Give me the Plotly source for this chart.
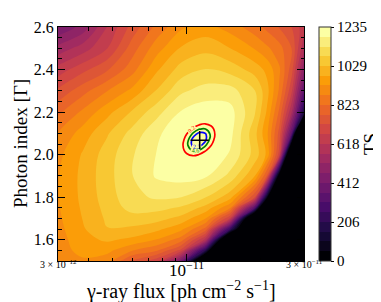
import math
import plotly.graph_objects as go
from plotly.colors import sample_colorscale

# ---------------- data ----------------
# TS map grid: log10 of the gamma-ray flux (columns) and photon index (rows).
# The outermost column/row on each side lies just outside the plotted range.
log_flux = [-11.623, -11.523, -11.423, -11.323, -11.223, -11.123, -11.023,
            -10.923, -10.823, -10.723, -10.673, -10.623, -10.573, -10.523,
            -10.423]
photon_index = [1.4, 1.5, 1.55, 1.6, 1.65, 1.7, 1.75, 1.8, 1.9, 2.0, 2.1,
                2.2, 2.3, 2.4, 2.5, 2.6, 2.7]
# estimated TS values (rows follow photon_index, columns follow log_flux)
ts_map = [
    [806, 844, 825, 528, 110, -326, -800, -800, -800, -800, -800, -800, -800, -800, -800],
    [825, 883, 914, 896, 760, 686, 412, -316, -800, -800, -800, -800, -800, -800, -800],
    [834, 894, 950, 942, 880, 832, 704, 195, -800, -800, -800, -800, -800, -800, -800],
    [840, 902, 961, 986, 966, 924, 849, 600, -350, -800, -800, -800, -800, -800, -800],
    [846, 910, 971, 1027, 1018, 992, 940, 806, 240, -465, -800, -800, -800, -800, -800],
    [850, 916, 979, 1038, 1060, 1049, 1012, 926, 664, -340, -800, -800, -800, -800, -800],
    [853, 921, 985, 1047, 1099, 1098, 1074, 1011, 879, 321, -450, -800, -800, -800, -800],
    [855, 923, 990, 1055, 1116, 1140, 1133, 1083, 997, 723, 75, -800, -800, -800, -800],
    [851, 922, 992, 1061, 1129, 1190, 1206, 1192, 1116, 978, 763, -40, -800, -800, -800],
    [839, 911, 983, 1055, 1126, 1185, 1228, 1226, 1178, 1060, 966, 690, -375, -800, -800],
    [805, 877, 949, 1023, 1098, 1172, 1223, 1233, 1200, 1046, 936, 752, 348, -800, -800],
    [738, 811, 885, 960, 1035, 1112, 1188, 1212, 1204, 1086, 970, 812, 567, 158, -800],
    [660, 732, 803, 873, 939, 1032, 1121, 1156, 1154, 1083, 995, 866, 678, 336, -800],
    [572, 639, 704, 766, 852, 968, 1051, 1082, 1060, 1007, 964, 883, 743, 468, -800],
    [471, 533, 590, 668, 797, 903, 983, 1013, 978, 923, 885, 843, 771, 575, -690],
    [361, 415, 482, 619, 738, 838, 917, 946, 904, 845, 808, 768, 719, 638, -331],
    [240, 296, 436, 564, 677, 772, 852, 879, 831, 771, 735, 695, 651, 605, 227],
]
ts_max = 1235
n_bands = 24

# fine scan around the best fit: Delta TS = TS_max - TS
local_log_flux = [-11.05, -11.025, -11.0, -10.975, -10.95, -10.925, -10.9,
                  -10.875, -10.85]
local_index = [1.97, 1.995, 2.02, 2.045, 2.07, 2.095, 2.12, 2.145, 2.17]
local_dts = [
    [27.7, 20.9, 17.2, 16.4, 18.6, 23.9, 32.1, 43.3, 57.5],
    [23.3, 15.6, 10.9, 9.2, 10.5, 14.8, 22.1, 32.4, 45.7],
    [21.2, 12.6, 6.9, 4.3, 4.7, 8.0, 14.4, 23.8, 36.1],
    [21.4, 11.9, 5.3, 1.7, 1.2, 3.6, 9.0, 17.5, 28.9],
    [24.0, 13.5, 6.0, 1.5, 0.0, 1.5, 6.0, 13.5, 24.0],
    [28.9, 17.5, 9.0, 3.6, 1.2, 1.7, 5.3, 11.9, 21.4],
    [36.1, 23.8, 14.4, 8.0, 4.7, 4.3, 6.9, 12.6, 21.2],
    [45.7, 32.4, 22.1, 14.8, 10.5, 9.2, 10.9, 15.6, 23.3],
    [57.5, 43.3, 32.1, 23.9, 18.6, 16.4, 17.2, 20.9, 27.7],
]
conf_levels = [2.30, 4.61, 9.21]
conf_colors = ["blue", "green", "red"]

best_flux = [1.13e-11]
best_index = [2.068]

x_major = [3e-12, 1e-11, 3e-11]
x_major_text = ["<span style='font-size:10px'>3 × 10<sup>−12</sup></span>",
                "10<sup>−11</sup>",
                "<span style='font-size:10px'>3 × 10<sup>−11</sup></span>"]
x_minor = [4e-12, 5e-12, 6e-12, 7e-12, 8e-12, 9e-12, 2e-11]
y_major = [1.6, 1.8, 2.0, 2.2, 2.4, 2.6]

# ---------------- figure ----------------
FONT = "Liberation Serif"
flux = [10 ** v for v in log_flux]
local_flux = [10 ** v for v in local_log_flux]
step = ts_max / n_bands

# banded inferno scale for the colour bar (band b -> inferno(b / 23))
band_cols = sample_colorscale("Inferno", [b / (n_bands - 1) for b in range(n_bands)])
banded = []
for b, c in enumerate(band_cols):
    banded.append([b / n_bands, c])
    banded.append([(b + 1) / n_bands, c])

cb_vals = [k * ts_max / 6 for k in range(7)]
cb_text = [str(round(v)) for v in cb_vals]

W, H = 381, 302
ml, mr, mt, mb = 50, 58, 11, 49
pw = W - ml - mr
ph = H - mt - mb
main_right = 246 / pw

fig = go.Figure()
fig.add_trace(go.Contour(
    x=flux, y=photon_index, z=ts_map, colorscale="Inferno",
    autocontour=False, connectgaps=True,
    contours=dict(start=step, end=step * (n_bands - 1), size=step,
                  coloring="fill", showlines=False),
    line=dict(width=0, smoothing=1.0), showscale=False, hoverinfo="skip"))

for lvl, col in zip(conf_levels, conf_colors):
    fig.add_trace(go.Contour(
        x=local_flux, y=local_index, z=local_dts, autocontour=False,
        connectgaps=True,
        contours=dict(start=lvl, end=lvl, size=1, coloring="none",
                      showlabels=True, labelformat=".1f",
                      labelfont=dict(size=6, color=col, family=FONT)),
        line=dict(color=col, width=1.7, smoothing=1.3),
        showscale=False, hoverinfo="skip"))

fig.add_trace(go.Scatter(
    x=best_flux, y=best_index, mode="markers",
    marker=dict(symbol="cross-thin", size=13, color="black",
                line=dict(width=1.5, color="black")),
    hoverinfo="skip", showlegend=False))

# colour bar (banded TS scale) carried by an invisible marker at the best fit
fig.add_trace(go.Scatter(
    x=best_flux, y=best_index, mode="markers", hoverinfo="skip",
    showlegend=False,
    marker=dict(size=1, opacity=0, color=[ts_max], colorscale=banded,
                cmin=0, cmax=ts_max, showscale=True,
                colorbar=dict(thickness=12, thicknessmode="pixels",
                              len=1, lenmode="fraction", x=261 / pw,
                              xanchor="left", xpad=0, y=0.5,
                              yanchor="middle", ypad=0, outlinewidth=1,
                              outlinecolor="#333333", ticks="outside",
                              ticklen=3, tickcolor="black",
                              tickvals=cb_vals, ticktext=cb_text,
                              tickfont=dict(size=15, family=FONT)))))

axis_common = dict(showgrid=False, zeroline=False, showline=True,
                   linecolor="black", linewidth=1, ticks="inside",
                   tickcolor="black", tickwidth=1, mirror="allticks")

annotations = []
for v, t in zip(x_major, x_major_text):
    annotations.append(dict(x=math.log10(v), xref="x", y=0, yref="paper",
                            yanchor="top", xanchor="center", yshift=5,
                            text=t, showarrow=False,
                            font=dict(size=17, family=FONT)))
annotations.append(dict(x=main_right / 2, xref="paper", y=-31 / ph,
                        yref="paper", xanchor="center", yanchor="middle",
                        text="γ-ray flux [ph cm<sup>−2</sup> s<sup>−1</sup>]",
                        showarrow=False, font=dict(size=20, family=FONT)))
annotations.append(dict(x=-38 / pw, xref="paper", y=0.5, yref="paper",
                        xanchor="center", yanchor="middle", textangle=-90,
                        text="Photon index [Γ]", showarrow=False,
                        font=dict(size=19, family=FONT)))
annotations.append(dict(x=1 + 39 / pw, xref="paper", y=0.5, yref="paper",
                        xanchor="center", yanchor="middle", textangle=-90,
                        text="TS", showarrow=False,
                        font=dict(size=19, family=FONT)))

fig.update_layout(
    width=W, height=H,
    margin=dict(l=ml, r=mr, t=mt, b=mb),
    paper_bgcolor="white", plot_bgcolor="white",
    font=dict(family=FONT, color="black"),
    showlegend=False,
    annotations=annotations,
    xaxis=dict(type="log", range=[math.log10(3e-12), math.log10(3e-11)],
               domain=[0, main_right],
               tickvals=x_major, showticklabels=False, ticklen=7,
               minor=dict(tickvals=x_minor, ticks="inside", ticklen=3.5,
                          tickcolor="black", tickwidth=1),
               **axis_common),
    yaxis=dict(range=[1.5, 2.6], domain=[0, 1],
               tickvals=y_major, tickformat=".1f", ticklen=7,
               tickfont=dict(size=16),
               minor=dict(dtick=0.05, tick0=1.5, ticks="inside", ticklen=3.5,
                          tickcolor="black", tickwidth=1),
               **axis_common),
)

fig.write_html("out.html", config={"staticPlot": True})
